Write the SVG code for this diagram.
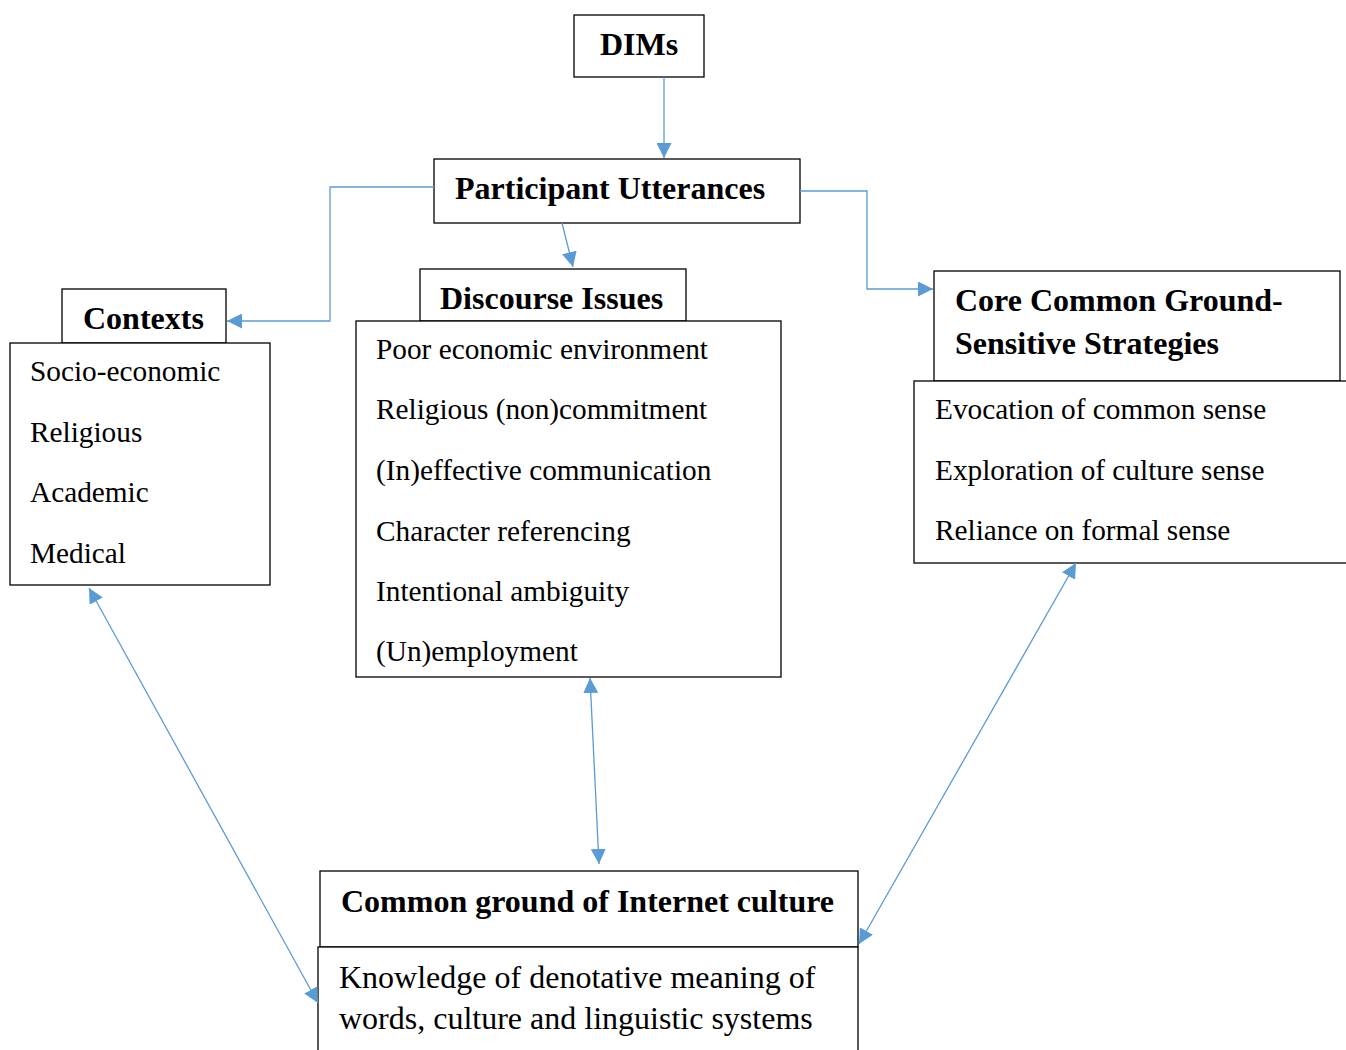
<svg xmlns="http://www.w3.org/2000/svg" width="1346" height="1050" viewBox="0 0 1346 1050">
<defs>
<style>
.box{fill:#fff;stroke:#000;stroke-width:1.3}
.b{font-family:"Liberation Serif","Times New Roman",serif;font-weight:bold;font-size:32px;fill:#000}
.r{font-family:"Liberation Serif","Times New Roman",serif;font-size:29.3px;fill:#000}
.r32{font-family:"Liberation Serif","Times New Roman",serif;font-size:32px;fill:#000}
.c{fill:none;stroke:#5B9BD5;stroke-width:1.3}
</style>
<marker id="ah" markerUnits="userSpaceOnUse" markerWidth="15" markerHeight="15" viewBox="0 0 15 15" refX="15" refY="7.5" orient="auto-start-reverse">
<path d="M0,0 L15,7.5 L0,15 z" fill="#5B9BD5"/>
</marker>
</defs>
<rect width="1346" height="1050" fill="#fff"/>

<g id="dims">
<rect class="box" x="574" y="15" width="130" height="62"/>
<text class="b" x="600" y="55">DIMs</text>
</g>

<g id="participant-utterances">
<rect class="box" x="434" y="159" width="366" height="64"/>
<text class="b" x="455" y="199">Participant Utterances</text>
</g>

<g id="discourse-issues">
<rect class="box" x="420" y="269" width="266" height="52"/>
<text class="b" x="440" y="309">Discourse Issues</text>
<rect class="box" x="356" y="321" width="425" height="356"/>
<text class="r" x="376" y="359">Poor economic environment</text>
<text class="r" x="376" y="419">Religious (non)commitment</text>
<text class="r" x="376" y="480">(In)effective communication</text>
<text class="r" x="376" y="541">Character referencing</text>
<text class="r" x="376" y="601">Intentional ambiguity</text>
<text class="r" x="376" y="661">(Un)employment</text>
</g>

<g id="contexts">
<rect class="box" x="62" y="289" width="164" height="54"/>
<text class="b" x="83" y="329">Contexts</text>
<rect class="box" x="10" y="343" width="260" height="242"/>
<text class="r" x="30" y="381">Socio-economic</text>
<text class="r" x="30" y="442">Religious</text>
<text class="r" x="30" y="502">Academic</text>
<text class="r" x="30" y="563">Medical</text>
</g>

<g id="strategies">
<rect class="box" x="934" y="271" width="406" height="110"/>
<text class="b" x="955" y="311">Core Common Ground-</text>
<text class="b" x="955" y="354">Sensitive Strategies</text>
<rect class="box" x="914" y="381" width="450" height="182"/>
<text class="r" x="935" y="419">Evocation of common sense</text>
<text class="r" x="935" y="480">Exploration of culture sense</text>
<text class="r" x="935" y="540">Reliance on formal sense</text>
</g>

<g id="common-ground">
<rect class="box" x="320" y="871" width="538" height="76"/>
<text class="b" x="341" y="912">Common ground of Internet culture</text>
<rect class="box" x="318" y="947" width="540" height="120"/>
<text class="r32" x="339" y="988">Knowledge of denotative meaning of</text>
<text class="r32" x="339" y="1029">words, culture and linguistic systems</text>
</g>

<g id="connectors">
<path class="c" d="M664,77 L664,158" marker-end="url(#ah)"/>
<path class="c" d="M562,223 L573,267" marker-end="url(#ah)"/>
<path class="c" d="M434,187 H330 V321 H227" marker-end="url(#ah)"/>
<path class="c" d="M800,191 H867 V289 H933" marker-end="url(#ah)"/>
<path class="c" d="M590,678 L599,864" marker-start="url(#ah)" marker-end="url(#ah)"/>
<path class="c" d="M89,588 L318,1003" marker-start="url(#ah)" marker-end="url(#ah)"/>
<path class="c" d="M1076,563 L859,944" marker-start="url(#ah)" marker-end="url(#ah)"/>
</g>
</svg>
